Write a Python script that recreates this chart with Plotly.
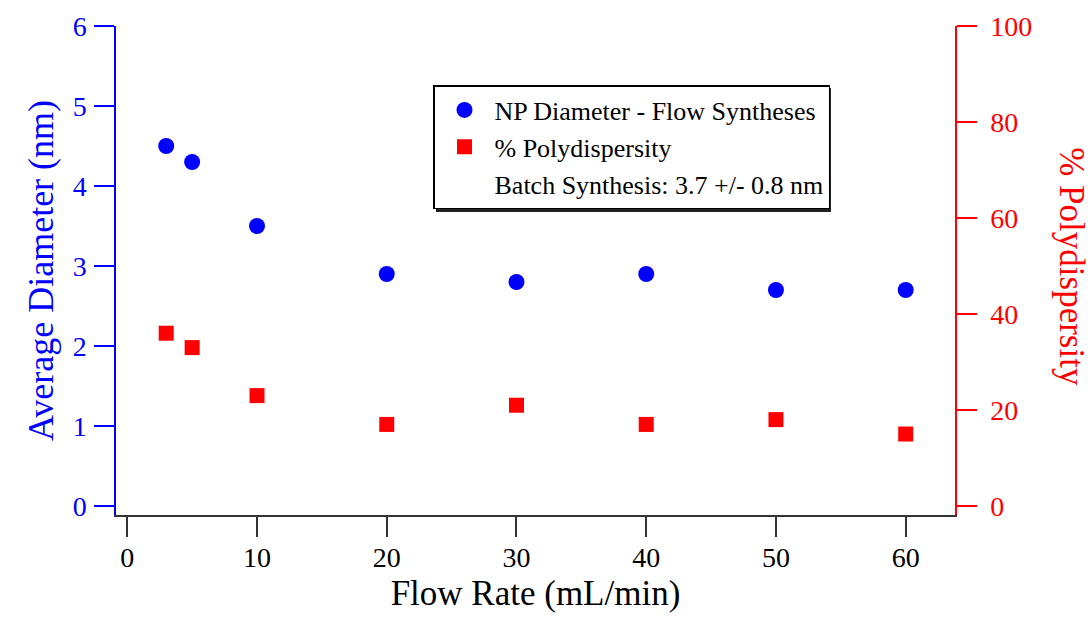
import plotly.graph_objects as go

flow_rate = [3, 5, 10, 20, 30, 40, 50, 60]
diameter_nm = [4.5, 4.3, 3.5, 2.9, 2.8, 2.9, 2.7, 2.7]
polydispersity_pct = [36, 33, 23, 17, 21, 17, 18, 15]

x_ticks = [0, 10, 20, 30, 40, 50, 60]
left_ticks = [0, 1, 2, 3, 4, 5, 6]
right_ticks = [0, 20, 40, 60, 80, 100]

BLUE = "#0000FF"
RED = "#FF0000"
FONT = "Liberation Serif"

fig = go.Figure()
fig.add_trace(go.Scatter(
    x=flow_rate, y=diameter_nm, mode="markers", name="NP Diameter - Flow Syntheses",
    marker=dict(symbol="circle", size=16, color=BLUE), yaxis="y"))
fig.add_trace(go.Scatter(
    x=flow_rate, y=polydispersity_pct, mode="markers", name="% Polydispersity",
    marker=dict(symbol="square", size=15, color=RED), yaxis="y2"))
fig.add_trace(go.Scatter(
    x=[None], y=[None], mode="none", name="Batch Synthesis: 3.7 +/- 0.8 nm",
    yaxis="y"))

L, R, T, B = 116, 136, 26, 107
PW, PH = 1091 - L - R, 622 - T - B


def px_to_paper_x(px):
    return (px - L) / PW


def px_to_paper_y(py):
    return (622 - B - py) / PH


# approximate legend box (pixels) for the drop shadow
LEG_L, LEG_T, LEG_R, LEG_B = 433, 85, 828, 209
SH = 3

fig.update_layout(
    width=1091, height=622,
    margin=dict(l=L, r=R, t=T, b=B, autoexpand=False),
    paper_bgcolor="white", plot_bgcolor="white",
    font=dict(family=FONT, size=24, color="black"),
    showlegend=True,
    legend=dict(
        x=px_to_paper_x(LEG_L), y=px_to_paper_y(LEG_T), xanchor="left", yanchor="top",
        bgcolor="white", bordercolor="black", borderwidth=1.5,
        font=dict(family=FONT, size=26, color="black"),
        tracegroupgap=0, itemsizing="trace", itemwidth=50,
    ),
    shapes=[dict(
        type="rect", xref="paper", yref="paper", layer="above",
        x0=px_to_paper_x(LEG_L + SH), x1=px_to_paper_x(LEG_R + SH),
        y0=px_to_paper_y(LEG_B + SH), y1=px_to_paper_y(LEG_T + SH),
        fillcolor="#222222", line=dict(width=0))],
    xaxis=dict(
        range=[-0.87, 63.8], tickvals=x_ticks, ticks="outside", ticklen=20,
        tickwidth=2, tickcolor="#333333", showline=True, linecolor="#333333",
        linewidth=1.5, showgrid=False, zeroline=False,
        tickfont=dict(family=FONT, size=28, color="black"),
        ticklabelstandoff=-3,
        title=dict(text="Flow Rate (mL/min)", font=dict(family=FONT, size=35, color="black"),
                   standoff=8),
    ),
    yaxis=dict(
        range=[-0.112, 6], tickvals=left_ticks, ticks="outside", ticklen=20,
        tickwidth=1.5, tickcolor=BLUE, showline=True, linecolor=BLUE, linewidth=1.5,
        showgrid=False, zeroline=False, ticklabelstandoff=2,
        tickfont=dict(family=FONT, size=28, color=BLUE),
        title=dict(text="Average Diameter (nm)", font=dict(family=FONT, size=36, color=BLUE),
                   standoff=8),
    ),
    yaxis2=dict(
        range=[-1.87, 100], tickvals=right_ticks, overlaying="y", side="right",
        ticks="outside", ticklen=20, tickwidth=1.5, tickcolor=RED, showline=True,
        linecolor=RED, linewidth=1.5, showgrid=False, zeroline=False,
        ticklabelstandoff=8,
        tickfont=dict(family=FONT, size=28, color=RED),
    ),
    annotations=[dict(
        text="% Polydispersity", textangle=90, xref="paper", yref="paper",
        x=1.0 + (1072 - 955) / 840, y=0.507, xanchor="center", yanchor="middle",
        showarrow=False, font=dict(family=FONT, size=35, color=RED))],
)

fig.write_html("out.html")
